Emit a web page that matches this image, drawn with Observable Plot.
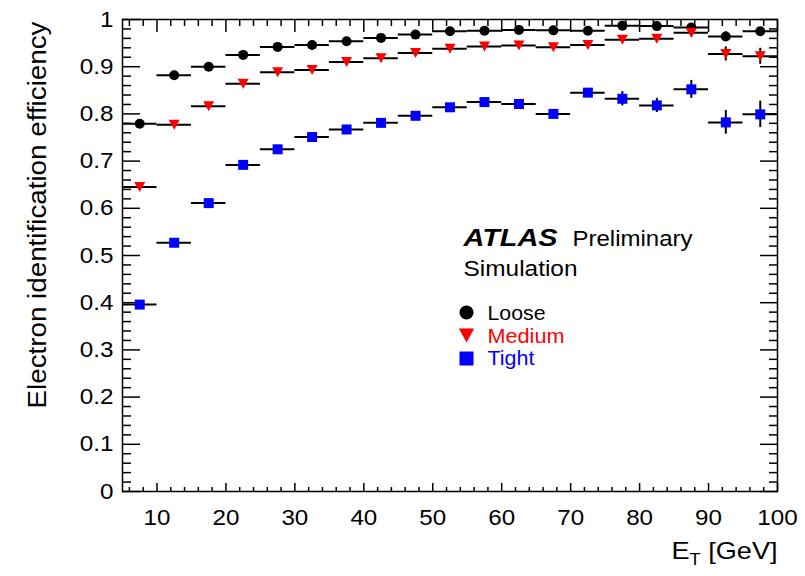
<!DOCTYPE html>
<html><head><meta charset="utf-8">
<script src="https://cdn.jsdelivr.net/npm/d3@7"></script>
<script src="https://cdn.jsdelivr.net/npm/@observablehq/plot@0.6"></script>
<style>html,body{margin:0;padding:0;background:#fff;} #chart{width:805px;height:576px;}</style>
</head><body><div id="chart"></div>
<script>
// ---- data ----
const binLow    = [5, 10, 15, 20, 25, 30, 35, 40, 45, 50, 55, 60, 65, 70, 75, 80, 85, 90, 95];
const binHigh   = [10, 15, 20, 25, 30, 35, 40, 45, 50, 55, 60, 65, 70, 75, 80, 85, 90, 95, 100];
const binCenter = [7.5, 12.5, 17.5, 22.5, 27.5, 32.5, 37.5, 42.5, 47.5, 52.5, 57.5, 62.5, 67.5, 72.5, 77.5, 82.5, 87.5, 92.5, 97.5];

const looseEff  = [0.779, 0.882, 0.900, 0.925, 0.942, 0.946, 0.954, 0.961, 0.968, 0.975, 0.976, 0.978, 0.977, 0.976, 0.987, 0.986, 0.983, 0.964, 0.975];
const looseErr  = [0.003, 0.003, 0.003, 0.003, 0.003, 0.003, 0.003, 0.003, 0.003, 0.003, 0.003, 0.003, 0.003, 0.004, 0.004, 0.004, 0.005, 0.010, 0.008];
const mediumEff = [0.645, 0.777, 0.816, 0.864, 0.888, 0.893, 0.910, 0.918, 0.929, 0.938, 0.943, 0.945, 0.941, 0.946, 0.957, 0.959, 0.972, 0.927, 0.922];
const mediumErr = [0.005, 0.004, 0.004, 0.004, 0.004, 0.004, 0.004, 0.004, 0.004, 0.004, 0.004, 0.004, 0.005, 0.005, 0.006, 0.007, 0.009, 0.015, 0.017];
const tightEff  = [0.396, 0.527, 0.611, 0.692, 0.725, 0.751, 0.767, 0.781, 0.796, 0.814, 0.825, 0.821, 0.800, 0.845, 0.832, 0.818, 0.852, 0.782, 0.799];
const tightErr  = [0.005, 0.005, 0.005, 0.005, 0.005, 0.005, 0.005, 0.005, 0.005, 0.006, 0.006, 0.007, 0.008, 0.009, 0.015, 0.015, 0.019, 0.025, 0.028];

const seriesNames = ["Loose", "Medium", "Tight"];

const xMajor = [10, 20, 30, 40, 50, 60, 70, 80, 90, 100];
const xTickLabels = ["10", "20", "30", "40", "50", "60", "70", "80", "90", "100"];
const yMajor = [0, 0.1, 0.2, 0.3, 0.4, 0.5, 0.6, 0.7, 0.8, 0.9, 1];
const yTickLabels = ["0", "0.1", "0.2", "0.3", "0.4", "0.5", "0.6", "0.7", "0.8", "0.9", "1"];

const xLabel = "E_T [GeV]";
const yLabel = "Electron identification efficiency";

// ---- styling ----
const invTriangle = {draw(ctx, size) { const a = Math.sqrt(size / Math.PI); ctx.moveTo(-1.1 * a, -a); ctx.lineTo(1.1 * a, -a); ctx.lineTo(0, a); ctx.closePath(); }};
const squareSym = {draw(ctx, size) { const a = Math.sqrt(size / Math.PI); ctx.rect(-a, -a, 2 * a, 2 * a); }};
const seriesStyle = [
  {eff: looseEff, err: looseErr, color: "#000000", symbol: "circle", r: 5},
  {eff: mediumEff, err: mediumErr, color: "#ff0000", symbol: invTriangle, r: 5},
  {eff: tightEff, err: tightErr, color: "#0000ff", symbol: squareSym, r: 5}
];

const xMinor = d3.range(6, 100, 2).filter(v => v % 10 !== 0);
const yMinor = d3.range(1, 50).map(i => i / 50).filter((v, i) => (i + 1) % 5 !== 0);

const font = "'Liberation Sans', Arial, Helvetica, sans-serif";
const noText = () => "";

const dataMarks = seriesStyle.flatMap(s => {
  const rows = binCenter.map((c, i) => ({x: c, lo: binLow[i], hi: binHigh[i], y: s.eff[i], e: s.err[i]}));
  return [
    Plot.ruleY(rows, {y: "y", x1: "lo", x2: "hi", stroke: "black", strokeWidth: 2}),
    Plot.ruleX(rows, {x: "x", y1: d => d.y - d.e, y2: d => d.y + d.e, stroke: "black", strokeWidth: 2}),
    Plot.dot(rows, {x: "x", y: "y", r: s.r, symbol: s.symbol, fill: s.color, stroke: "none"})
  ];
});

const legendY = [293, 316, 339];
const legendTextY = [300, 323, 345];
const legendMarks = seriesStyle.flatMap((s, i) => [
  Plot.dot([seriesNames[i]], {frameAnchor: "top-left", dx: 344, dy: legendY[i], r: 7, symbol: s.symbol, fill: s.color, stroke: "none"}),
  Plot.text([seriesNames[i]], {frameAnchor: "top-left", dx: 365, dy: legendTextY[i], text: d => d, textAnchor: "start", lineAnchor: "bottom", fill: s.color, fontSize: 19.5})
]);

const plot = Plot.plot({
  width: 805, height: 576,
  marginLeft: 122, marginRight: 28, marginTop: 19, marginBottom: 85,
  x: {domain: [5, 100]},
  y: {domain: [0, 1]},
  style: {fontFamily: font, fontSize: "22px", background: "white", color: "black"},
  marks: [
    // tick labels
    Plot.axisY(yMajor, {anchor: "left", tickSize: 0, tickPadding: 9, tickFormat: d => yTickLabels[yMajor.indexOf(d)], label: null}),
    Plot.axisX(xMajor, {anchor: "bottom", tickSize: 0, tickPadding: 18, tickFormat: d => xTickLabels[xMajor.indexOf(d)], label: null}),
    // inward ticks
    Plot.axisY(yMajor, {anchor: "left", tickSize: -18, strokeWidth: 1.5, tickFormat: noText, label: null}),
    Plot.axisY(yMinor, {anchor: "left", tickSize: -9, strokeWidth: 1.5, tickFormat: noText, label: null}),
    Plot.axisY(yMajor, {anchor: "right", tickSize: -18, strokeWidth: 1.5, tickFormat: noText, label: null}),
    Plot.axisY(yMinor, {anchor: "right", tickSize: -9, strokeWidth: 1.5, tickFormat: noText, label: null}),
    Plot.axisX(xMajor, {anchor: "bottom", tickSize: -8, strokeWidth: 1.5, tickFormat: noText, label: null}),
    Plot.axisX(xMinor, {anchor: "bottom", tickSize: -4, strokeWidth: 1.5, tickFormat: noText, label: null}),
    Plot.axisX(xMajor, {anchor: "top", tickSize: -12, strokeWidth: 1.5, tickFormat: noText, label: null}),
    Plot.axisX(xMinor, {anchor: "top", tickSize: -6, strokeWidth: 1.5, tickFormat: noText, label: null}),
    // axis titles
    Plot.text([yLabel], {frameAnchor: "top-left", rotate: -90, dx: -77, dy: 2, text: d => d, textAnchor: "end", lineAnchor: "bottom", fontSize: 25}),
    Plot.text([xLabel], {frameAnchor: "bottom-right", dx: 0, dy: 67, text: d => d, textAnchor: "end", lineAnchor: "bottom", fontSize: 24}),
    // data
    ...dataMarks,
    // annotation
    Plot.text(["ATLAS"], {frameAnchor: "top-left", dx: 341, dy: 226, text: d => d, textAnchor: "start", lineAnchor: "bottom", fontSize: 23, fontWeight: "bold", fontStyle: "italic"}),
    Plot.text(["Preliminary"], {frameAnchor: "top-left", dx: 450, dy: 226, text: d => d, textAnchor: "start", lineAnchor: "bottom", fontSize: 22}),
    Plot.text(["Simulation"], {frameAnchor: "top-left", dx: 341, dy: 256, text: d => d, textAnchor: "start", lineAnchor: "bottom", fontSize: 22}),
    ...legendMarks,
    Plot.frame({stroke: "black", strokeWidth: 1.5})
  ]
});

document.getElementById("chart").append(plot);

// match the reference's wider text extents
const targetLen = {"ATLAS": 94, "Preliminary": 120, "Simulation": 114, "Loose": 58, "Medium": 77, "Tight": 47};
targetLen[yLabel] = 387;
targetLen[xLabel] = 106;
const ns = "http://www.w3.org/2000/svg";
plot.querySelectorAll("text").forEach(t => {
  const s = t.textContent;
  if (!s) return;
  if (s === xLabel) {
    t.textContent = "E";
    const sub = document.createElementNS(ns, "tspan");
    sub.setAttribute("font-size", "16");
    sub.setAttribute("dy", "6");
    sub.textContent = "T";
    const rest = document.createElementNS(ns, "tspan");
    rest.setAttribute("dy", "-6");
    rest.textContent = " [GeV]";
    t.append(sub, rest);
  }
  const L = t.getComputedTextLength();
  if (!(L > 0)) return;
  const target = targetLen[s] !== undefined ? targetLen[s] : L * 1.1;
  t.setAttribute("textLength", target.toFixed(1));
  t.setAttribute("lengthAdjust", "spacingAndGlyphs");
});
</script></body></html>
